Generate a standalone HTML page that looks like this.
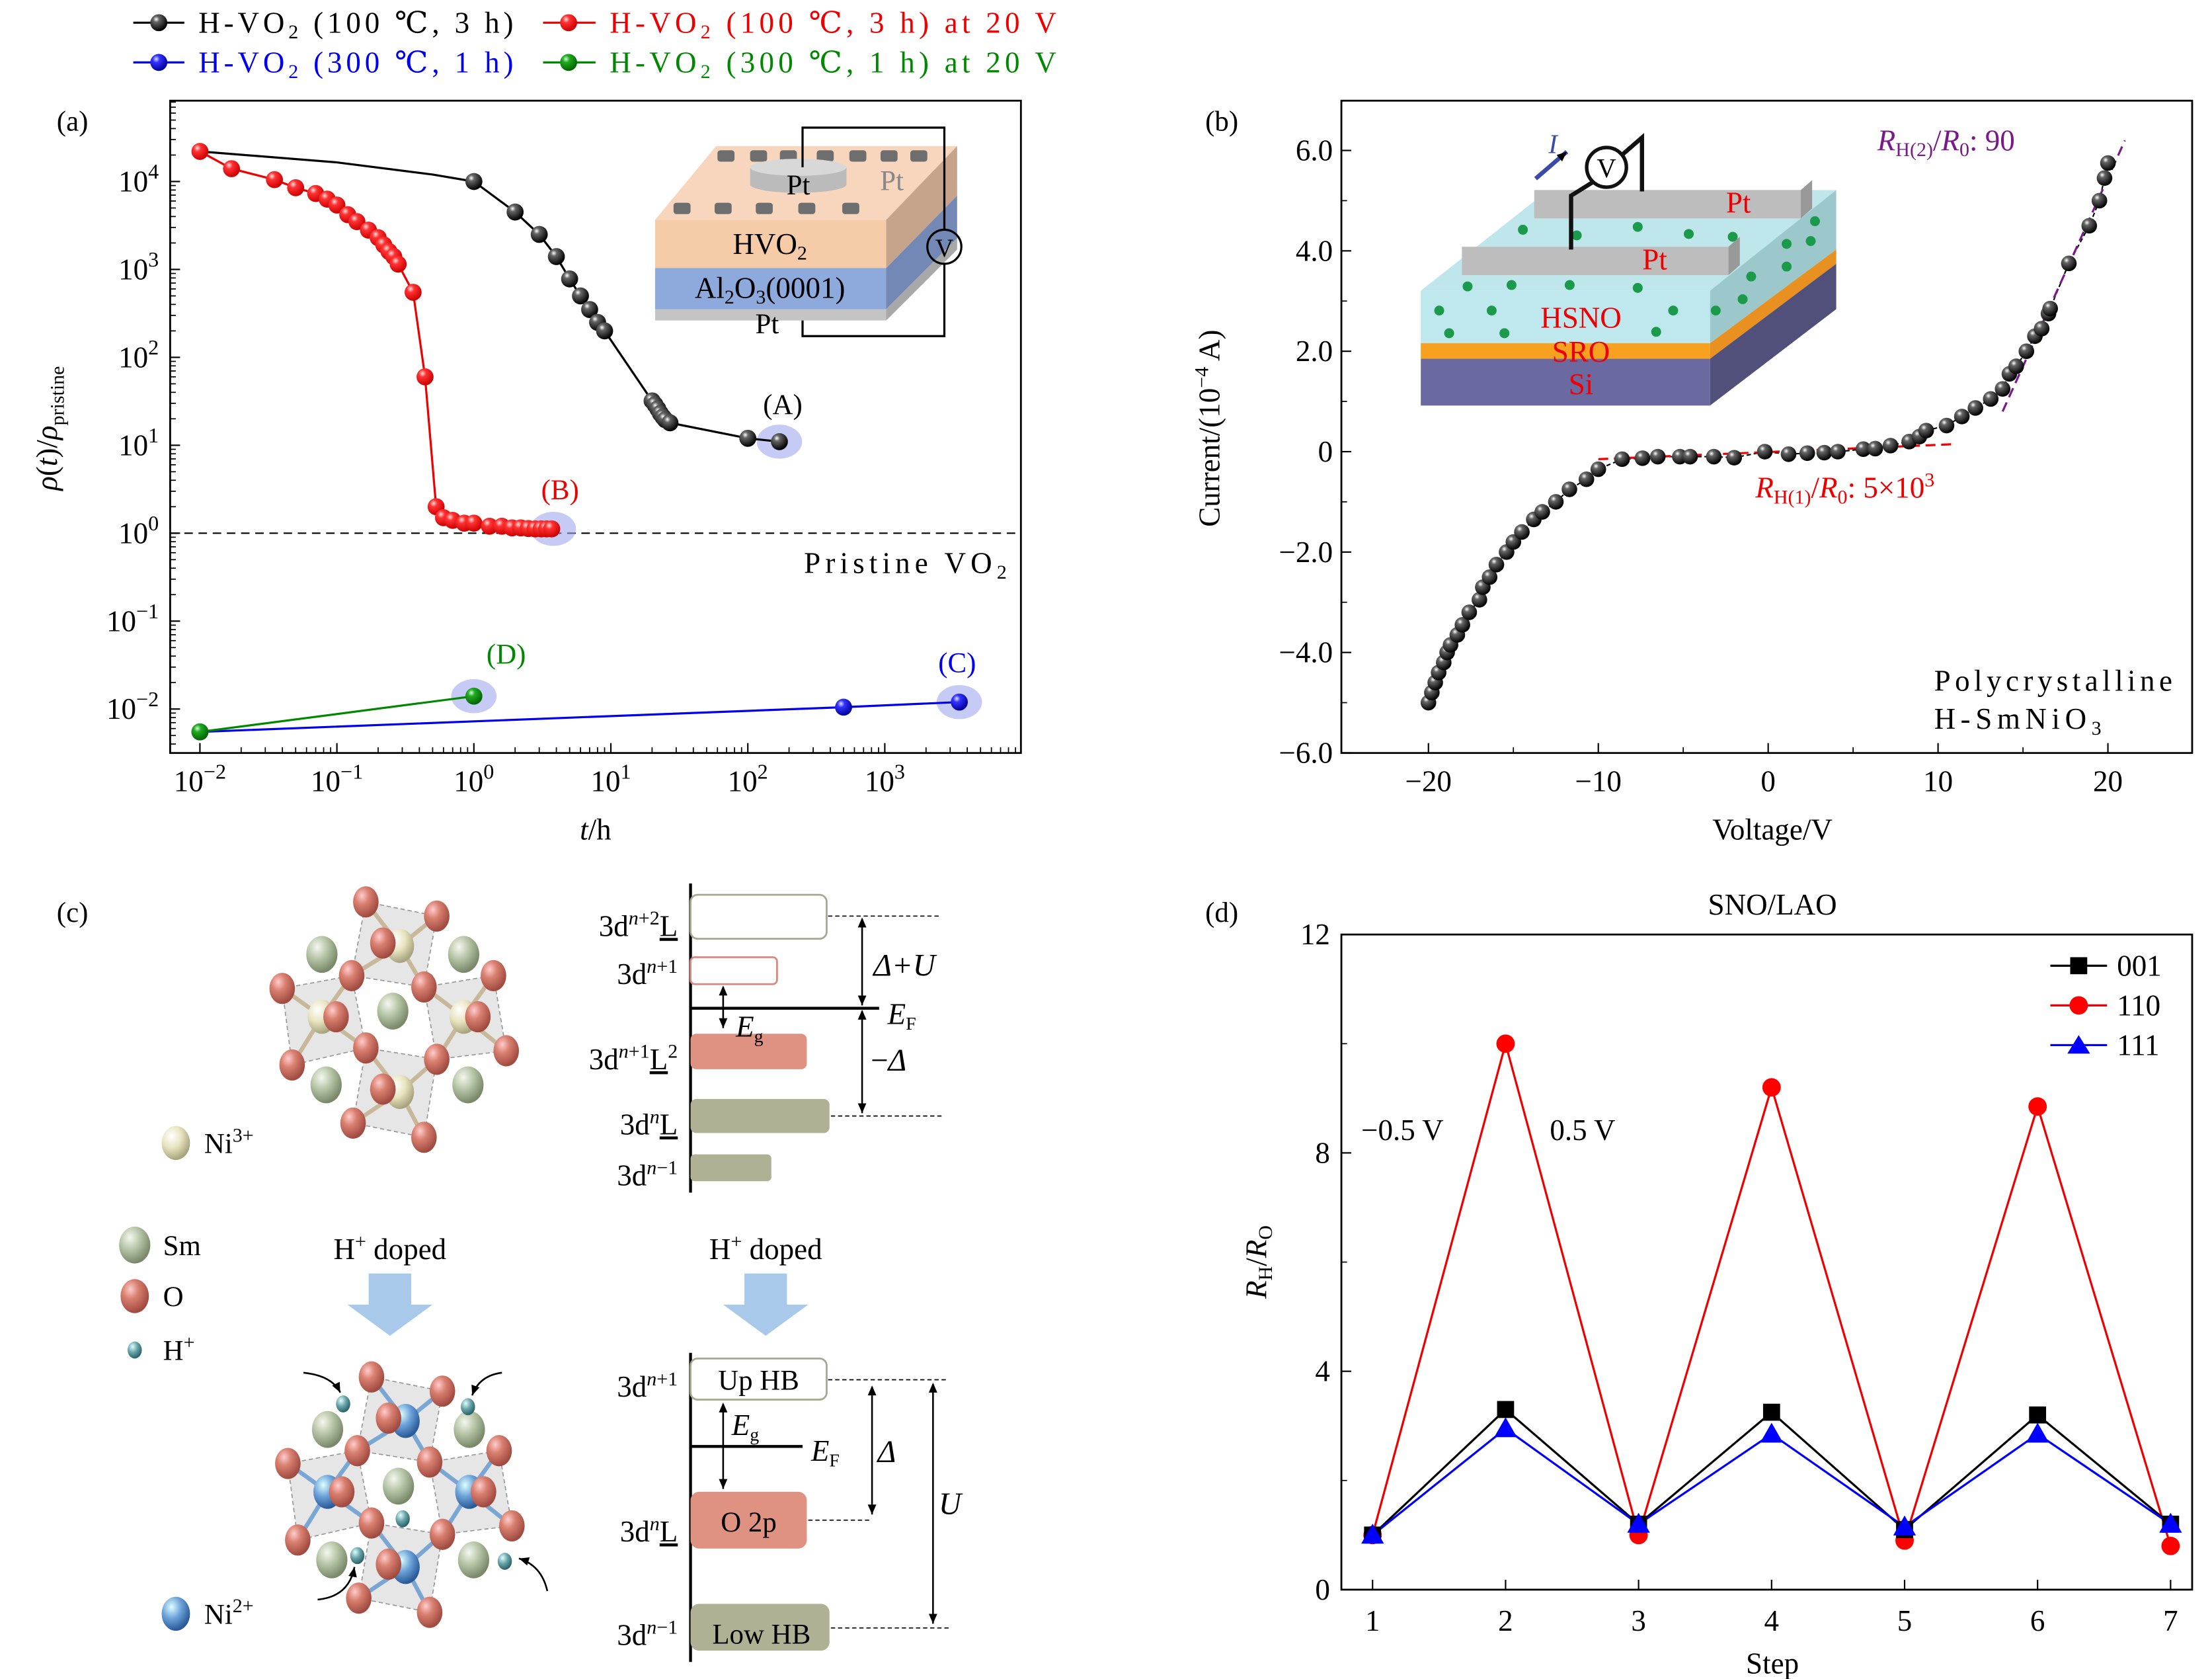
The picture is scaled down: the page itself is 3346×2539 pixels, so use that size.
<!DOCTYPE html>
<html><head><meta charset="utf-8"><style>
html,body{margin:0;padding:0;background:#fff;}
svg{display:block;font-family:"Liberation Serif","DejaVu Serif",serif;}
</style></head><body>
<svg id="fig" width="3346" height="2539" viewBox="0 0 1560 1184" preserveAspectRatio="none" xmlns="http://www.w3.org/2000/svg">
<defs>
<radialGradient id="gBlack" cx="0.35" cy="0.3" r="0.7"><stop offset="0" stop-color="#fff"/><stop offset="0.25" stop-color="#666"/><stop offset="1" stop-color="#000"/></radialGradient>
<radialGradient id="gRed" cx="0.35" cy="0.3" r="0.7"><stop offset="0" stop-color="#fdd"/><stop offset="0.3" stop-color="#f33"/><stop offset="1" stop-color="#c00"/></radialGradient>
<radialGradient id="gBlue" cx="0.35" cy="0.3" r="0.7"><stop offset="0" stop-color="#ddf"/><stop offset="0.3" stop-color="#33f"/><stop offset="1" stop-color="#009"/></radialGradient>
<radialGradient id="gGreen" cx="0.35" cy="0.3" r="0.7"><stop offset="0" stop-color="#cfc"/><stop offset="0.3" stop-color="#2a2"/><stop offset="1" stop-color="#060"/></radialGradient>
<radialGradient id="gO" cx="0.35" cy="0.3" r="0.7"><stop offset="0" stop-color="#fcc"/><stop offset="0.4" stop-color="#d98070"/><stop offset="1" stop-color="#a04a40"/></radialGradient>
<radialGradient id="gSm" cx="0.35" cy="0.3" r="0.7"><stop offset="0" stop-color="#f4f8ee"/><stop offset="0.5" stop-color="#b4c2a4"/><stop offset="1" stop-color="#788868"/></radialGradient>
<radialGradient id="gNi3" cx="0.35" cy="0.3" r="0.7"><stop offset="0" stop-color="#fff"/><stop offset="0.5" stop-color="#e8e4c0"/><stop offset="1" stop-color="#a8a480"/></radialGradient>
<radialGradient id="gNi2" cx="0.35" cy="0.3" r="0.7"><stop offset="0" stop-color="#dff"/><stop offset="0.5" stop-color="#6aa0d8"/><stop offset="1" stop-color="#2a5a98"/></radialGradient>
<radialGradient id="gH" cx="0.35" cy="0.3" r="0.7"><stop offset="0" stop-color="#dff"/><stop offset="0.5" stop-color="#6aa4a8"/><stop offset="1" stop-color="#2a6468"/></radialGradient>
<marker id="ah" markerWidth="8" markerHeight="8" refX="7" refY="4" orient="auto" markerUnits="userSpaceOnUse"><path d="M0,1 L7,4 L0,7 Z" fill="#000"/></marker>
<marker id="ahs" markerWidth="8" markerHeight="8" refX="1" refY="4" orient="auto" markerUnits="userSpaceOnUse"><path d="M7,1 L0,4 L7,7 Z" fill="#000"/></marker>
</defs>

<!-- Legend top -->
<g font-size="21">
 <g><line x1="94" y1="16" x2="130" y2="16" stroke="#000" stroke-width="1.5"/><circle cx="112" cy="16" r="6" fill="url(#gBlack)"/><text x="140" y="23" textLength="222" lengthAdjust="spacing">H-VO<tspan font-size="14" dy="4">2</tspan><tspan dy="-4"> (100 ℃, 3 h)</tspan></text></g>
 <g><line x1="383" y1="16" x2="420" y2="16" stroke="#e00" stroke-width="1.5"/><circle cx="401" cy="16" r="6" fill="url(#gRed)"/><text x="430" y="23" fill="#e00" textLength="315" lengthAdjust="spacing">H-VO<tspan font-size="14" dy="4">2</tspan><tspan dy="-4"> (100 ℃, 3 h) at 20 V</tspan></text></g>
 <g><line x1="94" y1="44" x2="130" y2="44" stroke="#00e" stroke-width="1.5"/><circle cx="112" cy="44" r="6" fill="url(#gBlue)"/><text x="140" y="51" fill="#00e" textLength="222" lengthAdjust="spacing">H-VO<tspan font-size="14" dy="4">2</tspan><tspan dy="-4"> (300 ℃, 1 h)</tspan></text></g>
 <g><line x1="383" y1="44" x2="420" y2="44" stroke="#080" stroke-width="1.5"/><circle cx="401" cy="44" r="6" fill="url(#gGreen)"/><text x="430" y="51" fill="#080" textLength="315" lengthAdjust="spacing">H-VO<tspan font-size="14" dy="4">2</tspan><tspan dy="-4"> (300 ℃, 1 h) at 20 V</tspan></text></g>
</g>

<!-- Panel labels -->
<text x="40" y="92" font-size="20">(a)</text>
<text x="850" y="92" font-size="20">(b)</text>
<text x="40" y="650" font-size="20">(c)</text>
<text x="850" y="650" font-size="20">(d)</text>

<!-- Panel a -->
<g id="pa">
 <rect x="120" y="71" width="600" height="460" fill="none" stroke="#000" stroke-width="1.3"/>
 <line x1="120" y1="376" x2="720" y2="376" stroke="#000" stroke-dasharray="6,4" stroke-width="1"/>
 <text x="567" y="404" font-size="21" textLength="143" lengthAdjust="spacing">Pristine VO<tspan font-size="14" dy="4">2</tspan></text>
 <!-- inset device -->
 <g>
  <polygon points="462,155 625,155 675,103 505,103" fill="#f8d6bd"/>
  <rect x="462" y="155" width="163" height="34" fill="#f6cba8"/>
  <rect x="462" y="189" width="163" height="29" fill="#8eaadc"/>
  <rect x="462" y="218" width="163" height="8" fill="#c4c4c4"/>
  <polygon points="625,155 675,103 675,138 625,189" fill="#c6a48c"/>
  <polygon points="625,189 675,138 675,168 625,218" fill="#7388b4"/>
  <polygon points="625,218 675,168 675,176 625,226" fill="#a8a8a8"/>
  <g fill="#6e6e6e">
   <rect x="506" y="106" width="12" height="8" rx="2"/><rect x="529" y="106" width="12" height="8" rx="2"/><rect x="550" y="106" width="12" height="8" rx="2"/><rect x="576" y="106" width="12" height="8" rx="2"/><rect x="599" y="106" width="12" height="8" rx="2"/><rect x="621" y="106" width="12" height="8" rx="2"/><rect x="642" y="106" width="12" height="8" rx="2"/>
   <rect x="475" y="143" width="12" height="8" rx="2"/><rect x="504" y="143" width="12" height="8" rx="2"/><rect x="533" y="143" width="12" height="8" rx="2"/><rect x="563" y="143" width="12" height="8" rx="2"/><rect x="594" y="143" width="12" height="8" rx="2"/>
  </g>
  <rect x="529" y="118" width="68" height="12" fill="#bbb"/><ellipse cx="563" cy="130" rx="34" ry="6" fill="#bbb"/><ellipse cx="563" cy="118" rx="34" ry="6" fill="#d8d8d8"/>
  <polyline points="566,118 566,90 666,90 666,162" fill="none" stroke="#000" stroke-width="1.5"/>
  <polyline points="666,186 666,237 566,237 566,226" fill="none" stroke="#000" stroke-width="1.5"/>
  <ellipse cx="666" cy="174" rx="12" ry="12" fill="none" stroke="#000" stroke-width="1.5"/>
  <text x="666" y="181" font-size="18" text-anchor="middle">V</text>
  <text x="563" y="137" font-size="20" text-anchor="middle">Pt</text>
  <text x="629" y="134" font-size="20" text-anchor="middle" fill="#888">Pt</text>
  <text x="543" y="179" font-size="21" text-anchor="middle">HVO<tspan font-size="14" dy="4">2</tspan></text>
  <text x="543" y="210" font-size="21" text-anchor="middle">Al<tspan font-size="14" dy="4">2</tspan><tspan dy="-4">O</tspan><tspan font-size="14" dy="4">3</tspan><tspan dy="-4">(0001)</tspan></text>
  <text x="541" y="235" font-size="20" text-anchor="middle">Pt</text>
 </g>
 <g id="pa-ticks"></g>
 <g id="pa-series"></g>
 <text x="552" y="292" font-size="20" text-anchor="middle">(A)</text>
 <text x="395" y="352" font-size="20" text-anchor="middle" fill="#e00">(B)</text>
 <text x="675" y="474" font-size="20" text-anchor="middle" fill="#00e">(C)</text>
 <text x="357" y="468" font-size="20" text-anchor="middle" fill="#080">(D)</text>
 <text x="420" y="592" font-size="21" text-anchor="middle"><tspan font-style="italic">t</tspan>/h</text>
 <text transform="translate(40,302) rotate(-90)" font-size="21" text-anchor="middle"><tspan font-style="italic">ρ</tspan>(<tspan font-style="italic">t</tspan>)/<tspan font-style="italic">ρ</tspan><tspan font-size="14" dy="5">pristine</tspan></text>
</g>

<!-- Panel b -->
<g id="pb">
 <rect x="946" y="71" width="600" height="460" fill="none" stroke="#000" stroke-width="1.3"/>
 <g>
  <polygon points="1002,205 1206,205 1295,134 1092,134" fill="#bfe6ea"/>
  <rect x="1002" y="205" width="204" height="37" fill="#bfe8ee"/>
  <rect x="1002" y="242" width="204" height="11" fill="#f8a020"/>
  <rect x="1002" y="253" width="204" height="33" fill="#6a6aa0"/>
  <polygon points="1206,205 1295,134 1295,176 1206,242" fill="#9cc8cc"/>
  <polygon points="1206,242 1295,176 1295,186 1206,253" fill="#e89020"/>
  <polygon points="1206,253 1295,186 1295,218 1206,286" fill="#50507a"/>
  <g fill="#1a9a4a">
   <circle cx="1074" cy="162" r="3.5"/><circle cx="1112" cy="166" r="3.5"/><circle cx="1155" cy="160" r="3.5"/><circle cx="1191" cy="165" r="3.5"/><circle cx="1222" cy="167" r="3.5"/><circle cx="1280" cy="156" r="3.5"/><circle cx="1260" cy="172" r="3.5"/><circle cx="1277" cy="170" r="3.5"/>
   <circle cx="1035" cy="202" r="3.5"/><circle cx="1066" cy="201" r="3.5"/><circle cx="1107" cy="201" r="3.5"/><circle cx="1155" cy="203" r="3.5"/><circle cx="1235" cy="195" r="3.5"/><circle cx="1260" cy="188" r="3.5"/>
   <circle cx="1015" cy="219" r="3.5"/><circle cx="1052" cy="219" r="3.5"/><circle cx="1180" cy="219" r="3.5"/><circle cx="1210" cy="219" r="3.5"/><circle cx="1229" cy="211" r="3.5"/>
   <circle cx="1022" cy="235" r="3.5"/><circle cx="1061" cy="235" r="3.5"/><circle cx="1168" cy="234" r="3.5"/>
  </g>
  <rect x="1082" y="134" width="188" height="20" fill="#bdbdbd"/><polygon points="1270,134 1278,127 1278,147 1270,154" fill="#999"/>
  <rect x="1031" y="174" width="188" height="20" fill="#bdbdbd"/><polygon points="1219,174 1227,167 1227,187 1219,194" fill="#999"/>
  <polyline points="1108,176 1108,138 1124,128" fill="none" stroke="#111" stroke-width="3"/>
  <polyline points="1143,110 1158,97 1158,135" fill="none" stroke="#111" stroke-width="3"/>
  <ellipse cx="1133" cy="118" rx="14" ry="14" fill="#fff" stroke="#111" stroke-width="2.5"/>
  <text x="1133" y="125" font-size="19" text-anchor="middle">V</text>
  <line x1="1083" y1="126" x2="1105" y2="107" stroke="#3a4aa8" stroke-width="3" marker-end="url(#ah)"/>
  <text x="1092" y="108" font-size="19" font-style="italic" fill="#3a4aa8">I</text>
  <text x="1226" y="150" font-size="21" text-anchor="middle" fill="#e00">Pt</text>
  <text x="1167" y="190" font-size="21" text-anchor="middle" fill="#e00">Pt</text>
  <text x="1115" y="231" font-size="21" text-anchor="middle" fill="#e00">HSNO</text>
  <text x="1115" y="255" font-size="21" text-anchor="middle" fill="#e00">SRO</text>
  <text x="1115" y="278" font-size="21" text-anchor="middle" fill="#e00">Si</text>
 </g>
 <g id="pb-ticks"></g>
 <g id="pb-series"></g>
 <text x="1324" y="106" font-size="21" fill="#7a1a8a"><tspan font-style="italic">R</tspan><tspan font-size="14" dy="4">H(2)</tspan><tspan dy="-4">/</tspan><tspan font-style="italic">R</tspan><tspan font-size="14" dy="4">0</tspan><tspan dy="-4">: 90</tspan></text>
 <text x="1238" y="351" font-size="21" fill="#e00"><tspan font-style="italic">R</tspan><tspan font-size="14" dy="4">H(1)</tspan><tspan dy="-4">/</tspan><tspan font-style="italic">R</tspan><tspan font-size="14" dy="4">0</tspan><tspan dy="-4">: 5×10</tspan><tspan font-size="14" dy="-8">3</tspan></text>
 <text x="1364" y="487" font-size="21" textLength="168" lengthAdjust="spacing">Polycrystalline</text>
 <text x="1364" y="514" font-size="21" textLength="118" lengthAdjust="spacing">H-SmNiO<tspan font-size="14" dy="4">3</tspan></text>
 <text x="1250" y="592" font-size="21" text-anchor="middle">Voltage/V</text>
 <text transform="translate(860,302) rotate(-90)" font-size="21" text-anchor="middle">Current/(10<tspan font-size="14" dy="-8">−4</tspan><tspan dy="8"> A)</tspan></text>
</g>

<!-- Panel c -->
<g id="pc">
 <g id="crystal-top"></g>
 <g id="crystal-bot"></g>
 <g font-size="20">
  <ellipse cx="124" cy="806" rx="10" ry="12" fill="url(#gNi3)"/><text x="144" y="813">Ni<tspan font-size="14" dy="-8">3+</tspan></text>
  <ellipse cx="95" cy="878" rx="11" ry="13" fill="url(#gSm)"/><text x="115" y="885">Sm</text>
  <ellipse cx="95" cy="914" rx="10" ry="12" fill="url(#gO)"/><text x="115" y="921">O</text>
  <ellipse cx="95" cy="952" rx="5" ry="6" fill="url(#gH)"/><text x="115" y="959">H<tspan font-size="14" dy="-8">+</tspan></text>
  <ellipse cx="124" cy="1138" rx="10" ry="12" fill="url(#gNi2)"/><text x="144" y="1145">Ni<tspan font-size="14" dy="-8">2+</tspan></text>
 </g>
 <text x="275" y="888" font-size="21" text-anchor="middle">H<tspan font-size="14" dy="-8">+</tspan><tspan dy="8"> doped</tspan></text>
 <text x="540" y="888" font-size="21" text-anchor="middle">H<tspan font-size="14" dy="-8">+</tspan><tspan dy="8"> doped</tspan></text>
 <polygon points="260,898 290,898 290,920 305,920 275,942 245,920 260,920" fill="#a9c9ea"/>
 <polygon points="525,898 555,898 555,920 570,920 540,942 510,920 525,920" fill="#a9c9ea"/>
 <!-- energy diagram top -->
 <g>
  <line x1="487" y1="623" x2="487" y2="841" stroke="#000" stroke-width="2"/>
  <rect x="487" y="631" width="96" height="31" rx="5" fill="#fff" stroke="#a8a890" stroke-width="1.3"/>
  <rect x="487" y="675" width="61" height="19" rx="3" fill="#fff" stroke="#d88a80" stroke-width="1.3"/>
  <rect x="487" y="729" width="82" height="25" rx="4" fill="#e09282"/>
  <rect x="487" y="775" width="98" height="24" rx="4" fill="#b0b094"/>
  <rect x="487" y="814" width="57" height="19" rx="3" fill="#b0b094"/>
  <line x1="487" y1="711" x2="620" y2="711" stroke="#000" stroke-width="2"/>
  <line x1="584" y1="646" x2="664" y2="646" stroke="#000" stroke-dasharray="3,2" stroke-width="0.8"/>
  <line x1="586" y1="787" x2="664" y2="787" stroke="#000" stroke-dasharray="3,2" stroke-width="0.8"/>
  <line x1="608" y1="648" x2="608" y2="709" stroke="#000" stroke-width="1.2" marker-start="url(#ahs)" marker-end="url(#ah)"/>
  <line x1="608" y1="713" x2="608" y2="785" stroke="#000" stroke-width="1.2" marker-start="url(#ahs)" marker-end="url(#ah)"/>
  <line x1="510" y1="696" x2="510" y2="725" stroke="#000" stroke-width="1.2" marker-start="url(#ahs)" marker-end="url(#ah)"/>
  <text x="616" y="688" font-size="22" font-style="italic">Δ+U</text>
  <text x="614" y="755" font-size="22"><tspan>−</tspan><tspan font-style="italic">Δ</tspan></text>
  <text x="626" y="722" font-size="21" font-style="italic">E<tspan font-size="13" font-style="normal" dy="4">F</tspan></text>
  <text x="519" y="731" font-size="21" font-style="italic">E<tspan font-size="13" font-style="normal" dy="4">g</tspan></text>
  <g font-size="21" text-anchor="end">
   <text x="478" y="660">3d<tspan font-size="14" font-style="italic" dy="-8">n</tspan><tspan font-size="14" dy="0">+2</tspan><tspan dy="8" text-decoration="underline">L</tspan></text>
   <text x="478" y="694">3d<tspan font-size="14" font-style="italic" dy="-8">n</tspan><tspan font-size="14">+1</tspan></text>
   <text x="478" y="754">3d<tspan font-size="14" font-style="italic" dy="-8">n</tspan><tspan font-size="14">+1</tspan><tspan dy="8" text-decoration="underline">L</tspan><tspan font-size="14" dy="-8">2</tspan></text>
   <text x="478" y="800">3d<tspan font-size="14" font-style="italic" dy="-8">n</tspan><tspan dy="8" text-decoration="underline">L</tspan></text>
   <text x="478" y="836">3d<tspan font-size="14" font-style="italic" dy="-8">n</tspan><tspan font-size="14">−1</tspan></text>
  </g>
 </g>
 <!-- energy diagram bottom -->
 <g>
  <line x1="487" y1="954" x2="487" y2="1172" stroke="#000" stroke-width="2"/>
  <rect x="487" y="958" width="96" height="29" rx="5" fill="#fff" stroke="#a8a890" stroke-width="1.3"/>
  <rect x="487" y="1052" width="82" height="40" rx="6" fill="#e09282"/>
  <rect x="487" y="1131" width="98" height="33" rx="6" fill="#b0b094"/>
  <text x="535" y="980" font-size="20" text-anchor="middle">Up HB</text>
  <text x="528" y="1080" font-size="20" text-anchor="middle">O 2p</text>
  <text x="537" y="1159" font-size="20" text-anchor="middle">Low HB</text>
  <line x1="487" y1="1020" x2="566" y2="1020" stroke="#000" stroke-width="2"/>
  <line x1="584" y1="973" x2="667" y2="973" stroke="#000" stroke-dasharray="3,2" stroke-width="0.8"/>
  <line x1="570" y1="1072" x2="615" y2="1072" stroke="#000" stroke-dasharray="3,2" stroke-width="0.8"/>
  <line x1="586" y1="1148" x2="670" y2="1148" stroke="#000" stroke-dasharray="3,2" stroke-width="0.8"/>
  <line x1="615" y1="978" x2="615" y2="1068" stroke="#000" stroke-width="1.2" marker-start="url(#ahs)" marker-end="url(#ah)"/>
  <line x1="658" y1="976" x2="658" y2="1145" stroke="#000" stroke-width="1.2" marker-start="url(#ahs)" marker-end="url(#ah)"/>
  <line x1="510" y1="990" x2="510" y2="1050" stroke="#000" stroke-width="1.2" marker-start="url(#ahs)" marker-end="url(#ah)"/>
  <text x="619" y="1031" font-size="22" font-style="italic">Δ</text>
  <text x="662" y="1068" font-size="22" font-style="italic">U</text>
  <text x="572" y="1030" font-size="21" font-style="italic">E<tspan font-size="13" font-style="normal" dy="4">F</tspan></text>
  <text x="516" y="1012" font-size="21" font-style="italic">E<tspan font-size="13" font-style="normal" dy="4">g</tspan></text>
  <g font-size="21" text-anchor="end">
   <text x="478" y="985">3d<tspan font-size="14" font-style="italic" dy="-8">n</tspan><tspan font-size="14">+1</tspan></text>
   <text x="478" y="1087">3d<tspan font-size="14" font-style="italic" dy="-8">n</tspan><tspan dy="8" text-decoration="underline">L</tspan></text>
   <text x="478" y="1160">3d<tspan font-size="14" font-style="italic" dy="-8">n</tspan><tspan font-size="14">−1</tspan></text>
  </g>
 </g>
</g>

<!-- Panel d -->
<g id="pd">
 <rect x="946" y="659" width="600" height="462" fill="none" stroke="#000" stroke-width="1.3"/>
 <text x="1250" y="645" font-size="21" text-anchor="middle">SNO/LAO</text>
 <text x="960" y="804" font-size="21">−0.5 V</text>
 <text x="1093" y="804" font-size="21">0.5 V</text>
 <g id="pd-ticks"></g>
 <g id="pd-series"></g>
 <g font-size="21">
  <g><line x1="1446" y1="681" x2="1486" y2="681" stroke="#000" stroke-width="1.5"/><rect x="1460" y="675" width="12" height="12" fill="#000"/><text x="1493" y="688">001</text></g>
  <g><line x1="1446" y1="709" x2="1486" y2="709" stroke="#e00" stroke-width="1.5"/><circle cx="1466" cy="709" r="6.5" fill="#f00"/><text x="1493" y="716">110</text></g>
  <g><line x1="1446" y1="737" x2="1486" y2="737" stroke="#00f" stroke-width="1.5"/><polygon points="1466,730 1474,743 1458,743" fill="#00f"/><text x="1493" y="744">111</text></g>
 </g>
 <text x="1250" y="1180" font-size="21" text-anchor="middle">Step</text>
 <text transform="translate(893,890) rotate(-90)" font-size="21" text-anchor="middle"><tspan font-style="italic">R</tspan><tspan font-size="14" dy="4">H</tspan><tspan dy="-4">/</tspan><tspan font-style="italic">R</tspan><tspan font-size="14" dy="4">O</tspan></text>
</g>

<script>
// ---------- Panel (a) data ----------
const aBlackT = [1, 2, 3, 4, 5, 6, 7, 8, 9, 20, 21, 22, 23, 24, 25, 27, 100, 170];
const aBlackV = [1e4, 4.5e3, 2.5e3, 1.4e3, 780, 500, 350, 250, 200, 32, 29, 26, 23, 21, 19.5, 18, 12, 11];
const aBlackGuideT = [0.01, 0.1, 0.5];
const aBlackGuideV = [2.2e4, 1.65e4, 1.2e4];
const aRedT = [0.01, 0.017, 0.035, 0.05, 0.07, 0.085, 0.1, 0.12, 0.14, 0.17, 0.2, 0.22, 0.24, 0.26, 0.28, 0.36, 0.44, 0.53, 0.6, 0.7, 0.85, 1.0, 1.3, 1.6, 1.9, 2.2, 2.5, 2.8, 3.1, 3.4, 3.7];
const aRedV = [2.2e4, 1.4e4, 1.05e4, 8.5e3, 7.3e3, 6.3e3, 5.4e3, 4.2e3, 3.5e3, 2.8e3, 2.3e3, 1.9e3, 1.6e3, 1.4e3, 1.15e3, 550, 60, 2.0, 1.5, 1.4, 1.3, 1.3, 1.2, 1.2, 1.15, 1.15, 1.13, 1.12, 1.12, 1.12, 1.12];
const aBlueT = [0.01, 500, 3500];
const aBlueV = [0.0055, 0.0105, 0.012];
const aGreenT = [0.01, 1];
const aGreenV = [0.0055, 0.014];
const aHighlightT = [170, 3.8, 3500, 1];
const aHighlightV = [11, 1.12, 0.012, 0.014];
const aXTickExp = [-2, -1, 0, 1, 2, 3];
const aYTickExp = [4, 3, 2, 1, 0, -1, -2];

// ---------- Panel (b) data ----------
const bV = [-20,-19.8,-19.6,-19.4,-19.1,-18.9,-18.7,-18.3,-18.0,-17.6,-17.0,-16.8,-16.4,-16.0,-15.4,-15.0,-14.5,-13.8,-13.3,-12.5,-11.7,-10.7,-10.0,-8.6,-7.4,-6.5,-5.2,-4.6,-3.2,-2.0,-0.2,1.2,2.3,3.3,4.1,5.6,6.3,7.2,8.3,8.9,9.3,10.5,11.4,12.2,13.1,13.8,14.2,14.6,15.2,15.7,16.1,16.5,16.6,17.7,18.9,19.5,19.8,20.0];
const bI = [-5.0,-4.8,-4.6,-4.4,-4.2,-4.0,-3.85,-3.65,-3.45,-3.2,-2.95,-2.7,-2.5,-2.25,-2.0,-1.8,-1.6,-1.35,-1.2,-1.0,-0.75,-0.55,-0.35,-0.15,-0.13,-0.1,-0.1,-0.1,-0.1,-0.12,0.0,-0.05,-0.03,-0.02,0.0,0.05,0.06,0.12,0.2,0.3,0.42,0.52,0.7,0.87,1.05,1.25,1.55,1.7,2.0,2.3,2.45,2.75,2.85,3.75,4.5,5.0,5.45,5.75];
const bFit1V = [-10, 11];
const bFit1I = [-0.15, 0.15];
const bFit2V = [13.8, 21];
const bFit2I = [0.8, 6.2];
const bXTicks = [-20, -10, 0, 10, 20];
const bXTickLabels = ["−20", "−10", "0", "10", "20"];
const bYTicks = [6, 4, 2, 0, -2, -4, -6];
const bYTickLabels = ["6.0", "4.0", "2.0", "0", "−2.0", "−4.0", "−6.0"];

// ---------- Panel (d) data ----------
const dSteps = [1, 2, 3, 4, 5, 6, 7];
const d001 = [1.0, 3.3, 1.2, 3.25, 1.1, 3.2, 1.2];
const d110 = [1.0, 10.0, 1.0, 9.2, 0.9, 8.85, 0.8];
const d111 = [1.0, 2.95, 1.2, 2.85, 1.15, 2.85, 1.2];
const dYTicks = [0, 4, 8, 12];
const dYTickLabels = ["0", "4", "8", "12"];

const NS = "http://www.w3.org/2000/svg";
function mk(tag, attrs, parent) {
  const e = document.createElementNS(NS, tag);
  for (const k in attrs) e.setAttribute(k, attrs[k]);
  parent.appendChild(e);
  return e;
}
const ax = t => 141 + 96.6 * (Math.log10(t) + 2);
const ay = v => 376 - 62 * Math.log10(v);
const bx = v => 1247 + 11.98 * v;
const by = i => 318.5 - 35.4 * i;
const dx = s => 968 + 93.8 * (s - 1);
const dy = v => 1121 - 38.5 * v;
const TF = 21;

(function(){
  const g = document.getElementById('pa-ticks');
  aXTickExp.forEach(e => {
    const x = ax(Math.pow(10, e));
    const l = mk('line', {x1:x, y1:531, x2:x, y2:524, stroke:'#000', 'stroke-width':1}, g);
    
    
    const t = mk('text', {x:x, y:558, 'font-size':TF, 'text-anchor':'middle'}, g);
    
    
    t.textContent = '10';
    const s = mk('tspan', {'font-size':15, dy:-9}, t); s.textContent = e < 0 ? '−' + (-e) : String(e);
  });
  for (let e = -2; e <= 3; e++) for (let m = 2; m <= 9; m++) {
    const x = ax(m * Math.pow(10, e)); if (x > 720) continue;
    const l = mk('line', {x1:x, y1:531, x2:x, y2:527, stroke:'#000', 'stroke-width':0.8}, g);
    
    
  }
  aYTickExp.forEach(e => {
    const y = ay(Math.pow(10, e));
    const l = mk('line', {x1:120, y1:y, x2:127, y2:y, stroke:'#000', 'stroke-width':1}, g);
    
    
    const t = mk('text', {x:112, y:y + 7, 'font-size':TF, 'text-anchor':'end'}, g);
    
    
    t.textContent = '10';
    const s = mk('tspan', {'font-size':15, dy:-9}, t); s.textContent = e < 0 ? '−' + (-e) : String(e);
  });
  for (let e = -3; e <= 4; e++) for (let m = 2; m <= 9; m++) {
    const y = ay(m * Math.pow(10, e)); if (y < 71 || y > 531) continue;
    const l = mk('line', {x1:120, y1:y, x2:124, y2:y, stroke:'#000', 'stroke-width':0.8}, g);
    
    
  }
})();
(function(){
  const g = document.getElementById('pa-series');
  aHighlightT.forEach((t, i) => {
    const e = mk('ellipse', {cx:ax(t), cy:ay(aHighlightV[i]), rx:16, ry:12, fill:'#a0a8f0', opacity:0.6}, g);
    
    
  });
  function series(T, V, color, grad, name, guideT, guideV) {
    let pts = [];
    if (guideT) guideT.forEach((t, i) => pts.push(ax(t) + ',' + ay(guideV[i])));
    T.forEach((t, i) => pts.push(ax(t) + ',' + ay(V[i])));
    const pl = mk('polyline', {points:pts.join(' '), fill:'none', stroke:color, 'stroke-width':1.5, 'stroke-linejoin':'round'}, g);
    
    
    T.forEach((t, i) => {
      const c = mk('circle', {cx:ax(t), cy:ay(V[i]), r:6, fill:'url(#' + grad + ')'}, g);
      
      
    });
  }
  series(aBlueT, aBlueV, '#00e', 'gBlue', 'series-blue');
  series(aGreenT, aGreenV, '#080', 'gGreen', 'series-green');
  series(aBlackT, aBlackV, '#000', 'gBlack', 'series-black', aBlackGuideT, aBlackGuideV);
  series(aRedT, aRedV, '#e00', 'gRed', 'series-red');
})();

(function(){
  const g = document.getElementById('pb-ticks');
  bXTicks.forEach((v, i) => {
    const x = bx(v);
    const l = mk('line', {x1:x, y1:531, x2:x, y2:524, stroke:'#000', 'stroke-width':1}, g);
    
    
    const t = mk('text', {x:x, y:558, 'font-size':TF, 'text-anchor':'middle'}, g);
    
    
    t.textContent = bXTickLabels[i];
    if (i < bXTicks.length - 1) {
      const mx = bx((v + bXTicks[i + 1]) / 2);
      const m = mk('line', {x1:mx, y1:531, x2:mx, y2:527, stroke:'#000', 'stroke-width':0.8}, g);
      
      
    }
  });
  bYTicks.forEach((v, i) => {
    const y = by(v);
    const l = mk('line', {x1:946, y1:y, x2:953, y2:y, stroke:'#000', 'stroke-width':1}, g);
    
    
    const t = mk('text', {x:940, y:y + 7, 'font-size':TF, 'text-anchor':'end'}, g);
    
    
    t.textContent = bYTickLabels[i];
    if (i < bYTicks.length - 1) {
      const my = by((v + bYTicks[i + 1]) / 2);
      const m = mk('line', {x1:946, y1:my, x2:950, y2:my, stroke:'#000', 'stroke-width':0.8}, g);
      
      
    }
  });
  const s = document.getElementById('pb-series');
  const pl = mk('polyline', {points:bV.map((v, i) => bx(v) + ',' + by(bI[i])).join(' '), fill:'none', stroke:'#000', 'stroke-width':1, 'stroke-dasharray':'3,2'}, s);
  
  
  const f1 = mk('line', {x1:bx(bFit1V[0]), y1:by(bFit1I[0]), x2:bx(bFit1V[1]), y2:by(bFit1I[1]), stroke:'#e00', 'stroke-width':1.5, 'stroke-dasharray':'7,4'}, s);
  
  
  const f2 = mk('line', {x1:bx(bFit2V[0]), y1:by(bFit2I[0]), x2:bx(bFit2V[1]), y2:by(bFit2I[1]), stroke:'#7a1a8a', 'stroke-width':1.5, 'stroke-dasharray':'7,4'}, s);
  
  
  bV.forEach((v, i) => {
    const c = mk('circle', {cx:bx(v), cy:by(bI[i]), r:5.5, fill:'url(#gBlack)'}, s);
    
    
  });
})();

(function(){
  const g = document.getElementById('pd-ticks');
  dSteps.forEach(st => {
    const x = dx(st);
    const l = mk('line', {x1:x, y1:1121, x2:x, y2:1114, stroke:'#000', 'stroke-width':1}, g);
    
    
    const t = mk('text', {x:x, y:1150, 'font-size':TF, 'text-anchor':'middle'}, g);
    
    
    t.textContent = String(st);
  });
  dYTicks.forEach((v, i) => {
    const y = dy(v);
    const l = mk('line', {x1:946, y1:y, x2:953, y2:y, stroke:'#000', 'stroke-width':1}, g);
    
    
    const t = mk('text', {x:938, y:y + 7, 'font-size':TF, 'text-anchor':'end'}, g);
    
    
    t.textContent = dYTickLabels[i];
    if (i < dYTicks.length - 1) {
      const my = dy((v + dYTicks[i + 1]) / 2);
      const m = mk('line', {x1:946, y1:my, x2:950, y2:my, stroke:'#000', 'stroke-width':0.8}, g);
      
      
    }
  });
  const s = document.getElementById('pd-series');
  function line(vals, color, name) {
    const pl = mk('polyline', {points:dSteps.map((st, i) => dx(st) + ',' + dy(vals[i])).join(' '), fill:'none', stroke:color, 'stroke-width':1.5}, s);
    
    
  }
  line(d110, '#e00', 'series-110');
  line(d001, '#000', 'series-001');
  line(d111, '#00f', 'series-111');
  dSteps.forEach((st, i) => {
    const c = mk('circle', {cx:dx(st), cy:dy(d110[i]), r:6.5, fill:'#f00'}, s);
    
    
  });
  dSteps.forEach((st, i) => {
    const r = mk('rect', {x:dx(st) - 6, y:dy(d001[i]) - 6, width:12, height:12, fill:'#000'}, s);
    
    
  });
  dSteps.forEach((st, i) => {
    const x = dx(st), y = dy(d111[i]);
    const p = mk('polygon', {points:x + ',' + (y - 8) + ' ' + (x + 8) + ',' + (y + 6) + ' ' + (x - 8) + ',' + (y + 6), fill:'#00f'}, s);
    
    
  });
})();

(function(){
  const O = [[258,636],[308,646],[270,665],[248,688],[299,696],[348,688],[199,697],[237,717],[337,717],[258,739],[308,747],[206,751],[357,741],[270,768],[249,792],[299,802]];
  const Sm = [[227,673],[327,673],[277,713],[230,765],[330,765]];
  const Ni = [[282,667],[227,717],[327,717],[282,770]];
  const octs = [[[258,636],[308,646],[299,696],[248,688]],[[199,697],[248,688],[258,739],[206,751]],[[299,696],[348,688],[357,741],[308,747]],[[258,739],[308,747],[299,802],[249,792]]];
  function draw(gid, ox, oy, niGrad, withH) {
    const g = document.getElementById(gid);
    octs.forEach(q => {
      const p = mk('polygon', {points:q.map(a => (a[0] + ox) + ',' + (a[1] + oy)).join(' '), fill:'#e6e6e6', stroke:'#999', 'stroke-dasharray':'3,2', 'stroke-width':0.8}, g);
      
      
    });
    Ni.forEach((n, k) => {
      const q = octs[k];
      q.forEach(a => mk('line', {x1:n[0] + ox, y1:n[1] + oy, x2:a[0] + ox, y2:a[1] + oy, stroke: niGrad === 'gNi2' ? '#7aa6d4' : '#c8b89a', 'stroke-width':3}, g));
    });
    Sm.forEach(a => {
      const e = mk('ellipse', {cx:a[0] + ox, cy:a[1] + oy, rx:11, ry:13, fill:'url(#gSm)'}, g);
      
      
    });
    Ni.forEach(a => {
      const e = mk('ellipse', {cx:a[0] + ox, cy:a[1] + oy, rx:10, ry:12, fill:'url(#' + niGrad + ')'}, g);
      
      
    });
    O.forEach(a => {
      const e = mk('ellipse', {cx:a[0] + ox, cy:a[1] + oy, rx:9, ry:11, fill:'url(#gO)'}, g);
      
      
    });
    if (withH) {
      [[242,990],[330,992],[284,1071],[252,1097],[356,1101]].forEach(a => {
        const e = mk('ellipse', {cx:a[0], cy:a[1], rx:5, ry:6, fill:'url(#gH)'}, g);
        
        
      });
      ['M214,968 Q234,970 240,982','M354,968 Q338,970 333,984','M224,1128 Q246,1126 250,1105','M386,1122 Q382,1104 366,1099'].forEach(d => {
        const p = mk('path', {d:d, fill:'none', stroke:'#000', 'stroke-width':1.2, 'marker-end':'url(#ah)'}, g);
        
        
      });
    }
  }
  draw('crystal-top', 0, 0, 'gNi3', false);
  draw('crystal-bot', 4, 335, 'gNi2', true);
})();
</script>
</svg>
</body></html>
